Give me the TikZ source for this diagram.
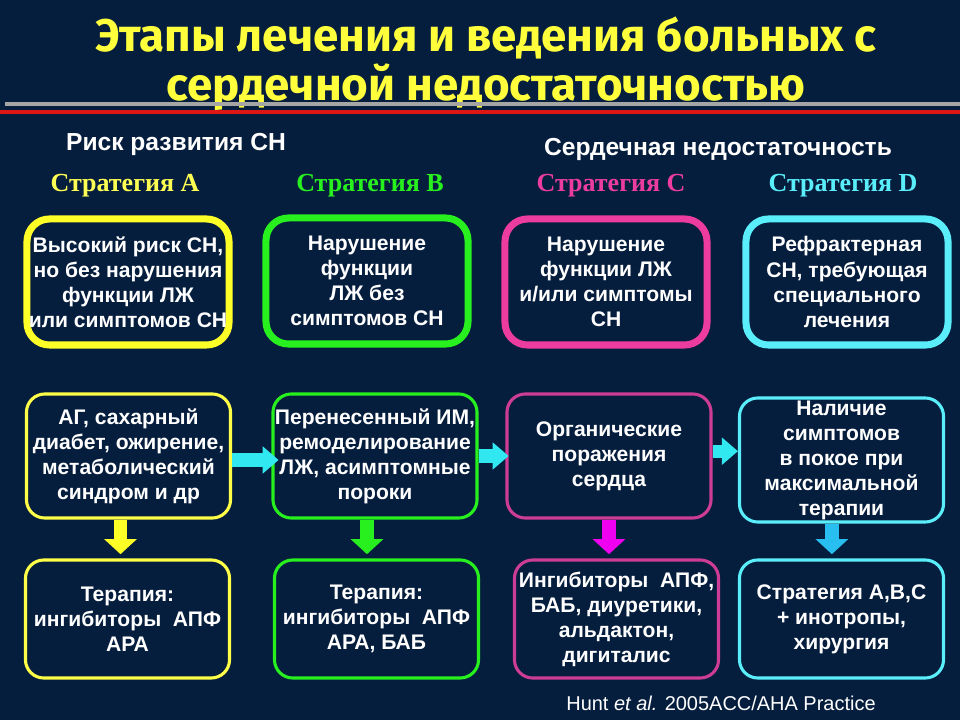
\documentclass[tikz,border=0pt]{standalone}
\usepackage{fontspec}
\setmainfont{Liberation Sans}
\newfontfamily\titlefont{Fira Sans}
\newfontfamily\stratfont{Liberation Serif}
\usepackage{tikz}
\usetikzlibrary{arrows.meta,positioning}
\usepackage{xcolor}
\definecolor{bgnavy}{RGB}{6,30,62}
\definecolor{titleyellow}{RGB}{255,255,60}
\definecolor{stratA}{RGB}{255,255,40}
\definecolor{stratB}{RGB}{40,240,30}
\definecolor{stratC}{RGB}{236,60,160}
\definecolor{stratCdark}{RGB}{205,60,150}
\definecolor{stratD}{RGB}{90,238,250}
\definecolor{flowcyan}{RGB}{50,232,240}
\definecolor{downblue}{RGB}{40,190,240}
\definecolor{downpink}{RGB}{240,0,240}
\definecolor{rulered}{RGB}{222,22,22}
\definecolor{rulegrey}{RGB}{165,165,165}

\begin{document}
\begin{tikzpicture}[x=0.025cm, y=-0.025cm,
    stage/.style={rectangle, draw, line width=5pt, rounded corners=16pt,
        fill=bgnavy, text=white, align=center, inner sep=0pt,
        minimum width=5.05cm, minimum height=3.15cm,
        font=\bfseries\fontsize{15}{17.8}\selectfont},
    box/.style={rectangle, draw, line width=2.2pt, rounded corners=13pt,
        fill=bgnavy, text=white, align=center, inner sep=0pt,
        minimum width=5.1cm, minimum height=3.1cm,
        font=\bfseries\fontsize{15}{17.8}\selectfont},
    therapy/.style={box, minimum height=2.95cm},
    strat/.style={font=\stratfont\bfseries\fontsize{18.5}{20}\selectfont},
    head/.style={text=white, font=\bfseries\fontsize{17.5}{20}\selectfont},
    flow/.style={-{Triangle[length=0.4cm, width=0.66cm]}, line width=0.33cm, flowcyan},
    down/.style={-{Triangle[length=0.38cm, width=0.8cm]}, line width=0.33cm,
        shorten >=3pt}
]
    % ---- Background and title ----
    \fill[bgnavy] (0,0) rectangle (960,720);
    \useasboundingbox (0,0) rectangle (960,720);

    \node[text=titleyellow, font=\titlefont\bfseries\fontsize{32.5}{35}\selectfont,
        align=center] (title) at (486,64)
        {Этапы лечения и ведения больных с\\сердечной недостаточностью};
    \draw[rulegrey, line width=2.2pt] (5,104) -- (960,104);
    \draw[rulered, line width=3pt] (0,112) -- (960,112);

    % ---- Group headings ----
    \node[head] (risk) at (176,144) {Риск развития СН};
    \node[head] (hf) at (718,149) {Сердечная недостаточность};

    % Strategy labels
    \node[strat, text=stratA!80!white] (sa) at (125,186) {Стратегия A};
    \node[strat, text=stratB] (sb) at (370,186) {Стратегия B};
    \node[strat, text=stratC] (sc) at (611,186) {Стратегия C};
    \node[strat, text=stratD] (sd) at (843,186) {Стратегия D};

    % ---- Stages (top row) ----
    \node[stage, draw=stratA] (a1) at (128,282)
        {Высокий риск СН,\\но без нарушения\\функции ЛЖ\\или симптомов СН};
    \node[stage, draw=stratB] (b1) at (367,281)
        {Нарушение\\функции\\ЛЖ без\\симптомов СН};
    \node[stage, draw=stratC] (c1) at (606,282)
        {Нарушение\\функции ЛЖ\\и/или симптомы\\СН};
    \node[stage, draw=stratD] (d1) at (847,282)
        {Рефрактерная\\СН, требующая\\специального\\лечения};

    % ---- Conditions (middle row) ----
    \node[box, draw=stratA!85!white] (a2) at (128.5,456)
        {АГ, сахарный\\диабет, ожирение,\\метаболический\\синдром и др};
    \node[box, draw=stratB] (b2) at (375,456)
        {Перенесенный ИМ,\\ремоделирование\\ЛЖ, асимптомные\\пороки};
    \node[box, draw=stratCdark] (c2) at (609,456)
        {Органические\\поражения\\сердца};
    \node[box, draw=stratD] (d2) at (841.5,460)
        {Наличие\\симптомов\\в покое при\\максимальной\\терапии};

    % ---- Therapy (bottom row) ----
    \node[therapy, draw=stratA!85!white] (a3) at (127.5,619)
        {Терапия:\\ингибиторы\ \ АПФ\\АРА};
    \node[therapy, draw=stratB] (b3) at (376.5,619)
        {Терапия:\\ингибиторы\ \ АПФ\\АРА, БАБ};
    \node[therapy, draw=stratCdark] (c3) at (616.5,619)
        {Ингибиторы\ \ АПФ,\\БАБ, диуретики,\\альдактон,\\дигиталис};
    \node[therapy, draw=stratD] (d3) at (841.5,619)
        {Стратегия A,B,C\\+ инотропы,\\хирургия};

    % Progression between conditions
    \draw[flow] ([yshift=-0.1cm]a2.east) -- ([yshift=-0.1cm,xshift=0.18cm]b2.west);
    \draw[flow] (b2.east) -- ([xshift=0.08cm]c2.west);
    \draw[flow] ([yshift=0.12cm]c2.east) -- ([yshift=0.12cm]c2.east -| d2.west);

    % Condition -> therapy
    \draw[down, stratA] ([xshift=-0.2cm]a2.south) -- ([xshift=-0.2cm]a2.south |- a3.north);
    \draw[down, stratB] ([xshift=-0.2cm]b2.south) -- ([xshift=-0.2cm]b2.south |- b3.north);
    \draw[down, downpink] (c2.south) -- (c2.south |- c3.north);
    \draw[down, downblue] ([xshift=-0.24cm]d2.south) -- ([xshift=-0.24cm]d2.south |- d3.north);

    % Source
    \node[text=white, font=\fontsize{14.2}{16}\selectfont] (src) at (721,703)
        {Hunt \textit{et al.} 2005ACC/AHA Practice};
\end{tikzpicture}
\end{document}
